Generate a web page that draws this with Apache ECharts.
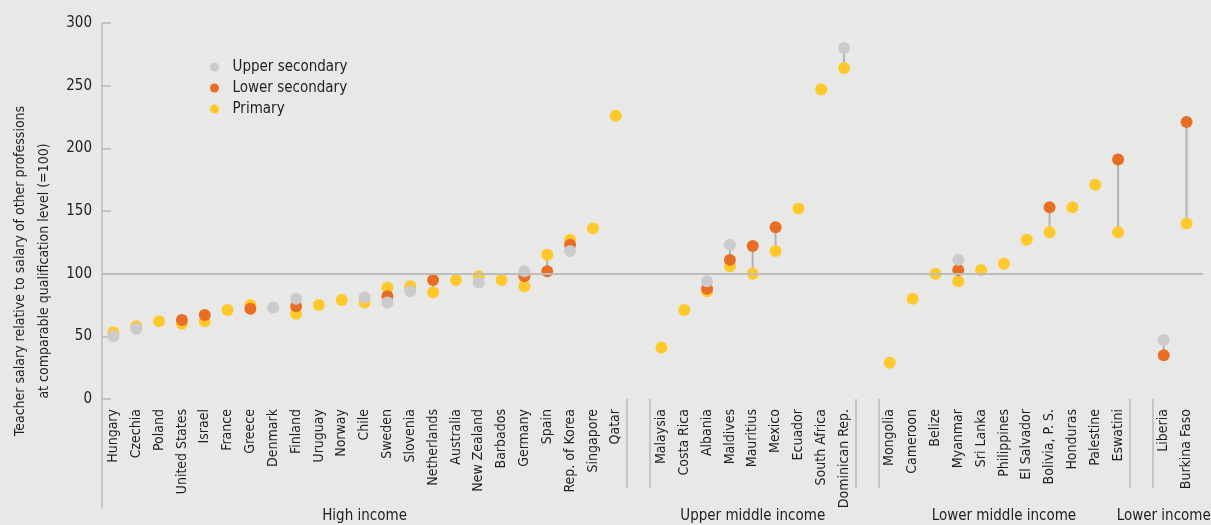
<!DOCTYPE html>
<html>
<head>
<meta charset="utf-8">
<title>Teacher salary relative to other professions</title>
<script src="https://cdn.jsdelivr.net/npm/echarts@6/dist/echarts.min.js"></script>
<style>
  html, body { margin: 0; padding: 0; background: #e8e9e6; }
  #chart { width: 1211px; height: 525px; }
</style>
</head>
<body>
<div id="chart"></div>
<script>
// countries per income group, in axis order
const highIncome = ['Hungary', 'Czechia', 'Poland', 'United States', 'Israel', 'France', 'Greece', 'Denmark',
  'Finland', 'Uruguay', 'Norway', 'Chile', 'Sweden', 'Slovenia', 'Netherlands', 'Australia', 'New Zealand',
  'Barbados', 'Germany', 'Spain', 'Rep. of Korea', 'Singapore', 'Qatar'];
const upperMiddle = ['Malaysia', 'Costa Rica', 'Albania', 'Maldives', 'Mauritius', 'Mexico', 'Ecuador',
  'South Africa', 'Dominican Rep.'];
const lowerMiddle = ['Mongolia', 'Cameroon', 'Belize', 'Myanmar', 'Sri Lanka', 'Philippines', 'El Salvador',
  'Bolivia, P. S.', 'Honduras', 'Palestine', 'Eswatini'];
const lowerIncome = ['Liberia', 'Burkina Faso'];
const groupNames = ['High income', 'Upper middle income', 'Lower middle income', 'Lower income'];

// salary index per country, same order as above (null = no data)
const upperSecondary = [50, 56, null, null, null, null, null, 73, 80, null, null, 81, 77, 86, null, null, 93, null, 102, null, 118, null, null,
  null, null, 94, 123, null, null, null, null, 280,
  null, null, null, 111, null, null, null, null, null, null, null,
  47, null];
const lowerSecondary = [null, null, null, 63, 67, null, 72, null, 74, null, null, null, 82, null, 95, null, null, null, 98, 102, 123, null, null,
  null, null, 88, 111, 122, 137, null, null, null,
  null, null, null, 103, null, null, null, 153, null, null, 191,
  35, 221];
const primary = [53, 58, 62, 60, 62, 71, 75, null, 68, 75, 79, 77, 89, 90, 85, 95, 98, 95, 90, 115, 127, 136, 226,
  41, 71, 86, 106, 100, 118, 152, 247, 264,
  29, 80, 100, 94, 103, 108, 127, 133, 153, 171, 133,
  null, 140];

const FONT = '"DejaVu Sans Condensed", "Liberation Sans Narrow", sans-serif';
const TEXT = '#1e1e1e';
const LINE = '#b9b9b9';

// axis slots: one empty slot between groups
const groups = [highIncome, upperMiddle, lowerMiddle, lowerIncome];
const slots = [];
const slotOf = [];
const groupLabels = [];
groups.forEach((g, gi) => {
  if (gi > 0) {
    slots.push('');
  }
  const start = slots.length;
  g.forEach(name => {
    slotOf.push(slots.length);
    slots.push(name);
  });
  groupLabels.push({ index: Math.floor((start + slots.length - 1) / 2), name: groupNames[gi] });
});

function toSlots(vals) {
  const out = slots.map(() => null);
  vals.forEach((v, i) => { out[slotOf[i]] = v; });
  return out;
}

// grey connector from lowest to highest value of each country
const ranges = [];
slotOf.forEach((s, i) => {
  const v = [upperSecondary[i], lowerSecondary[i], primary[i]].filter(x => x !== null);
  if (v.length > 1) {
    ranges.push([s, Math.min(...v), Math.max(...v)]);
  }
});

const chart = echarts.init(document.getElementById('chart'), null, { renderer: 'canvas' });

const PLOT_RIGHT = 13;
const SLOT = (1211 - 102 - PLOT_RIGHT) / slots.length;

chart.setOption({
  backgroundColor: '#e8e9e6',
  animation: false,
  textStyle: { fontFamily: FONT, color: TEXT },
  legend: {
    orient: 'vertical',
    left: 205,
    top: 53,
    icon: 'circle',
    itemWidth: 26,
    itemHeight: 9,
    itemGap: 3,
    data: ['Upper secondary', 'Lower secondary', 'Primary'],
    textStyle: { fontFamily: FONT, fontSize: 15, color: TEXT, lineHeight: 18 }
  },
  graphic: [{
    type: 'text',
    x: 32,
    y: 271,
    rotation: Math.PI / 2,
    style: {
      text: 'Teacher salary relative to salary of other professions\nat comparable qualification level (=100)',
      align: 'center',
      verticalAlign: 'middle',
      fontFamily: FONT,
      fontSize: 14,
      lineHeight: 24,
      fill: TEXT
    }
  }],
  grid: [
    { left: 102, right: PLOT_RIGHT, top: 23, height: 376, outerBoundsMode: 'none' },          // dots
    { left: 102, right: PLOT_RIGHT - SLOT, top: 399, height: 89, outerBoundsMode: 'none' },   // group separators (spare slot off-canvas)
    { left: 102, right: PLOT_RIGHT, top: 399, height: 109, outerBoundsMode: 'none' },         // axis extension + group names
    { left: 102, right: 8, top: 23, height: 376, outerBoundsMode: 'none' }                    // 100 reference line
  ],
  xAxis: [
    {
      gridIndex: 0,
      type: 'category',
      data: slots,
      axisLine: { show: false },
      axisTick: { show: false },
      axisLabel: { interval: 0, rotate: 90, margin: 10, fontFamily: FONT, fontSize: 14, color: TEXT }
    },
    {
      gridIndex: 1,
      type: 'category',
      data: slots.concat(['']),
      axisLine: { show: false },
      axisTick: { show: false },
      axisLabel: { show: false },
      splitLine: {
        show: true,
        interval: (i) => slots[i] === '' || slots[i - 1] === '',
        lineStyle: { color: LINE, width: 1.5 }
      }
    },
    {
      gridIndex: 2,
      type: 'category',
      data: slots,
      axisLine: { show: false },
      axisTick: { show: false },
      axisLabel: {
        interval: 0,
        margin: 1,
        fontFamily: FONT,
        fontSize: 15,
        color: TEXT,
        formatter: (v, i) => {
          const g = groupLabels.find(x => x.index === i);
          return g ? g.name : '';
        }
      }
    },
    { gridIndex: 3, type: 'value', show: false, min: 0, max: 1 }
  ],
  yAxis: [
    {
      gridIndex: 0,
      type: 'value',
      min: 0,
      max: 300,
      interval: 50,
      axisLine: { show: true, lineStyle: { color: LINE, width: 1.5 } },
      axisTick: { show: true, inside: true, length: 9, lineStyle: { color: LINE, width: 1.5 } },
      axisLabel: { margin: 10, fontFamily: FONT, fontSize: 15, color: TEXT },
      splitLine: { show: false }
    },
    { gridIndex: 1, type: 'value', show: false },
    {
      gridIndex: 2,
      type: 'value',
      min: 0,
      max: 1,
      axisLine: { show: true, lineStyle: { color: LINE, width: 1.5 } },
      axisTick: { show: false },
      axisLabel: { show: false },
      splitLine: { show: false }
    },
    { gridIndex: 3, type: 'value', show: false, min: 0, max: 300 }
  ],
  series: [
    {
      type: 'line',
      xAxisIndex: 3,
      yAxisIndex: 3,
      silent: true,
      z: 1,
      data: [],
      markLine: {
        silent: true,
        symbol: 'none',
        label: { show: false },
        lineStyle: { color: '#bdbdbc', width: 2, type: 'solid' },
        data: [{ yAxis: 100 }]
      }
    },
    {
      type: 'custom',
      xAxisIndex: 0,
      yAxisIndex: 0,
      silent: true,
      z: 1,
      data: ranges,
      encode: { x: 0, y: [1, 2] },
      renderItem(params, api) {
        const a = api.coord([api.value(0), api.value(1)]);
        const b = api.coord([api.value(0), api.value(2)]);
        return {
          type: 'line',
          shape: { x1: a[0], y1: a[1], x2: b[0], y2: b[1] },
          style: { stroke: '#b3b3b3', lineWidth: 2 }
        };
      }
    },
    {
      name: 'Primary',
      type: 'scatter',
      symbolSize: 12,
      z: 2,
      itemStyle: { color: '#ffc92b', opacity: 1 },
      data: toSlots(primary)
    },
    {
      name: 'Lower secondary',
      type: 'scatter',
      symbolSize: 12,
      z: 3,
      itemStyle: { color: '#e86e24', opacity: 1 },
      data: toSlots(lowerSecondary)
    },
    {
      name: 'Upper secondary',
      type: 'scatter',
      symbolSize: 12,
      z: 4,
      itemStyle: { color: '#cbcbcb', opacity: 1 },
      data: toSlots(upperSecondary)
    }
  ]
});

window.addEventListener('resize', () => chart.resize());
</script>
</body>
</html>
